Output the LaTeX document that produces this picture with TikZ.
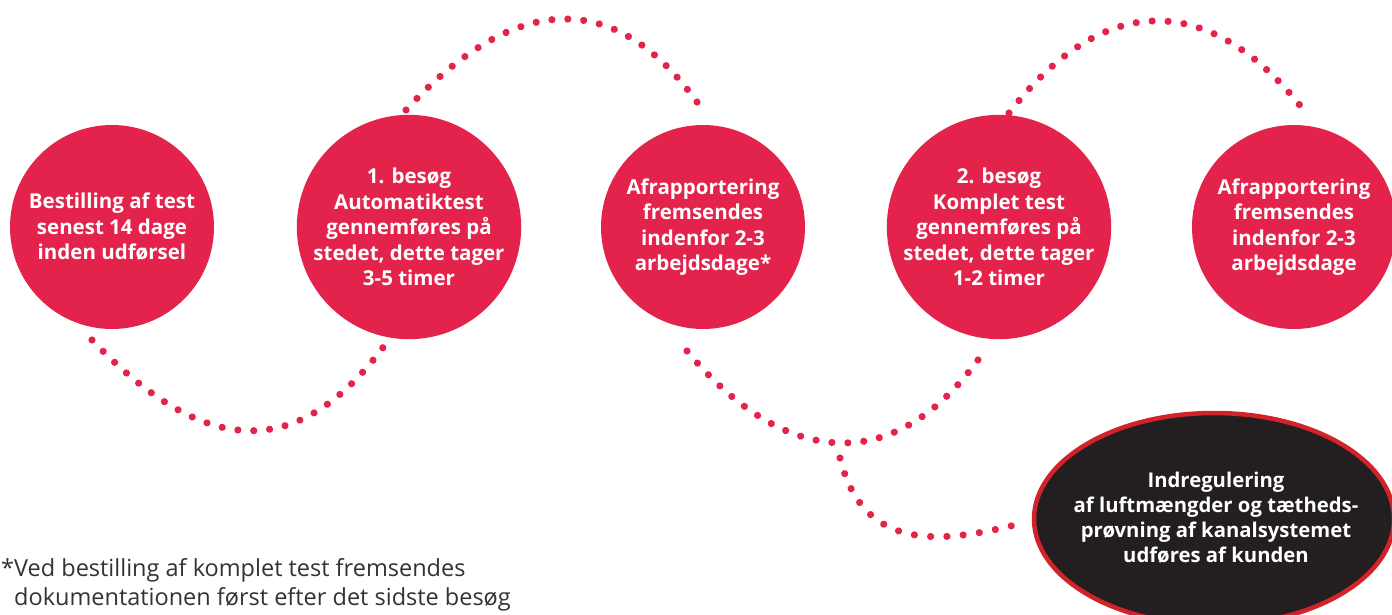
\documentclass[tikz,border=0pt]{standalone}
\usepackage{fontspec}
\setmainfont{Open Sans}
\usetikzlibrary{shapes.geometric,decorations.markings}
\definecolor{dotred}{HTML}{E4234C}
\definecolor{circred}{HTML}{E4234C}
\definecolor{ellfill}{HTML}{231F20}
\definecolor{ellborder}{HTML}{D2232A}
\definecolor{notegray}{HTML}{333333}
\begin{document}
\begin{tikzpicture}[x=1pt,y=-1pt,
  stepcirc/.style={circle, fill=circred, minimum size=204pt, inner sep=0pt,
    align=center, text=white, font=\fontsize{20.5}{25.5}\selectfont\bfseries},
  endell/.style={ellipse, fill=ellfill, draw=ellborder, line width=4.5pt,
    minimum width=360pt, minimum height=212pt, inner sep=0pt},
  elltext/.style={align=center, text=white, inner sep=0pt,
    font=\fontsize{20.3}{25}\selectfont\bfseries},
  dotpath/.style={decorate, decoration={markings,
    mark=between positions 0 and 1 step #1 with {\fill[dotred] (0,0) circle (3.6pt);},
    mark=at position 1 with {\fill[dotred] (0,0) circle (3.6pt);}}},
  notetext/.style={align=left, text=notegray, inner sep=0pt,
    font=\fontsize{23.5}{29}\selectfont}
]
\useasboundingbox (0,0) rectangle (1392,615);
\fill[white] (0,0) rectangle (1392,615);

\node[stepcirc] (c1) at (112,227) {Bestilling af test\\senest 14 dage\\inden udførsel};
\node[stepcirc] (c2) at (409,227) {1. besøg\\Automatiktest\\gennemføres på\\stedet, dette tager\\3-5 timer};
\node[stepcirc] (c3) at (703,227) {Afrapportering\\fremsendes\\indenfor 2-3\\arbejdsdage*};
\node[stepcirc] (c4) at (999,227) {2. besøg\\Komplet test\\gennemføres på\\stedet, dette tager\\1-2 timer};
\node[stepcirc] (c5) at (1294,227) {Afrapportering\\fremsendes\\indenfor 2-3\\arbejdsdage};
\node[endell] (e) at (1214,519) {};
\node[elltext] (etext) at (1216,518) {Indregulering\\af luftmængder og tætheds-\\prøvning af kanalsystemet\\udføres af kunden};

\node[notetext, anchor=base west] (note) at (1,605) {*Ved bestilling af komplet test fremsendes\\\hphantom{*}dokumentationen først efter det sidste besøg};

\coordinate (a1) at (92,340);
\coordinate (a2) at (392,335);
\coordinate (b1) at (406,110);
\coordinate (b2) at (706,115);
\coordinate (k1) at (687,351);
\coordinate (k2) at (987,347);
\coordinate (d1) at (840,458);
\coordinate (d2) at (1027,522);
\coordinate (f1) at (1009,113);
\coordinate (f2) at (1309,117);

\path[dotpath=0.043478] (a1) .. controls (204,457) and (300.5,466.6) .. (a2);
\path[dotpath=0.043478] (b1) .. controls (508,-1) and (614.5,-23) .. (b2);
\path[dotpath=0.043478] (k1) .. controls (784,467.5) and (898,481) .. (k2);
\path[dotpath=0.071428] (d1) .. controls (864,555) and (944.5,543.25) .. (d2);
\path[dotpath=0.043478] (f1) .. controls (1110,-17.6) and (1219,-3) .. (f2);
\end{tikzpicture}
\end{document}
